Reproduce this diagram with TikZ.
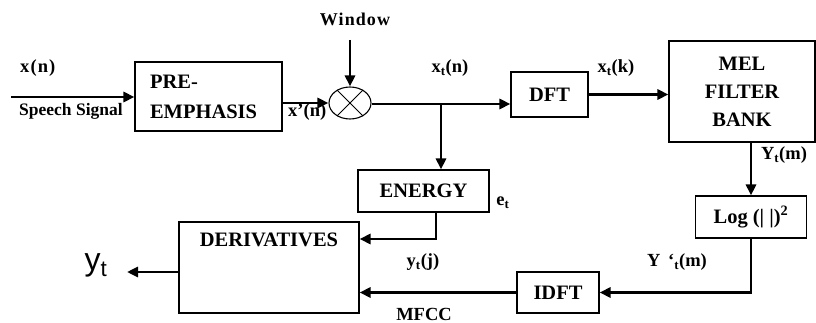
\documentclass[tikz,border=0pt]{standalone}
\usepackage{fontspec}
\setmainfont{Liberation Serif}
\newfontfamily\sansf{Liberation Sans}
\usetikzlibrary{shapes.geometric,arrows.meta}
\begin{document}
\begin{tikzpicture}[x=1pt,y=-1pt,
  blk/.style={draw,line width=1.1pt,inner sep=0pt,font=\bfseries\fontsize{20.5}{28}\selectfont,align=center},
  lbl/.style={font=\bfseries\fontsize{18.5}{20}\selectfont,inner sep=0pt},
  conn/.style={line width=2.8pt,-{Triangle[length=11pt,width=10pt]}}]
\useasboundingbox (0,0) rectangle (816,323);
% blocks
\node[blk,text width=117pt,inner xsep=15pt,minimum height=69pt,align=left,font=\bfseries\fontsize{20.5}{30}\selectfont] (pre) at (208.5,96.5) {PRE-\\EMPHASIS};
\node[draw,line width=1.1pt,ellipse,minimum width=42pt,minimum height=32pt,inner sep=0pt] (mul) at (350,103) {};
\draw[line width=0.8pt] (mul.45) -- (mul.225) (mul.135) -- (mul.315);
\node[blk,minimum width=77pt,minimum height=45pt] (dft) at (549.5,94.5) {DFT};
\node[blk,minimum width=146pt,minimum height=101pt] (mel) at (742,91.5) {MEL\\FILTER\\BANK};
\node[blk,minimum width=111pt,minimum height=42pt] (log) at (751,217) {Log (| |)\textsuperscript{2}};
\node[blk,minimum width=82pt,minimum height=41pt] (idft) at (558,292.5) {IDFT};
\node[blk,minimum width=131pt,minimum height=42pt] (energy) at (423.5,191) {ENERGY};
\node[blk,minimum width=180pt,minimum height=91pt,
  label={[font=\bfseries\fontsize{20.5}{28}\selectfont,anchor=north,yshift=-8pt]north:DERIVATIVES}] (der) at (269,267.5) {};
% free ends
\coordinate (in) at (11,97);
\coordinate (win) at (350,40);
\coordinate (br) at (441,104);
\coordinate (ec) at (436,239);
\coordinate (out) at (127,272);
% connectors
\draw[conn] (in) -- (in -| pre.west);
\draw[conn] (pre.east |- mul) -- (mul.west);
\draw[conn] (win) -- (mul.north);
\draw[conn] (mul.east |- br) -- (br -| dft.west);
\draw[conn] (br) -- (br |- energy.north);
\draw[conn] (dft.east) -- (dft.east -| mel.west);
\draw[conn] (log.north |- mel.south) -- (log.north);
\draw[conn] (log.south) -- (log.south |- idft.east) -- (idft.east);
\draw[conn] (idft.west) -- (idft.west -| der.east);
\draw[conn] (ec |- energy.south) -- (ec) -- (ec -| der.east);
\draw[conn] (der.west |- out) -- (out);
% labels
\node[lbl,anchor=west,font=\bfseries\fontsize{18.5}{20}\addfontfeature{LetterSpace=6}] (lxn) at (20,68) {x(n)};
\node[lbl,anchor=west,font=\bfseries\fontsize{17.5}{18}\selectfont] (lsp) at (19,111) {Speech Signal};
\node[lbl,anchor=west] (lxp) at (288,112) {x'(n)};
\node[lbl,font=\bfseries\fontsize{18}{20}\addfontfeature{LetterSpace=6}] (lwin) at (355,19) {Window};
\node[lbl] (lxtn) at (450,68) {x\textsubscript{t}(n)};
\node[lbl] (lxtk) at (616,68) {x\textsubscript{t}(k)};
\node[lbl] (lytm) at (784,155) {Y\textsubscript{t}(m)};
\node[lbl] (let) at (503,203) {e\textsubscript{t}};
\node[lbl] (lytj) at (423,262) {y\textsubscript{t}(j)};
\node[lbl] (lyp) at (677,262) {Y\, ‘\textsubscript{t}(m)};
\node[lbl] (lmfcc) at (424,314) {MFCC};
\node[inner sep=0pt,font=\sansf\fontsize{32}{34}\selectfont] (lyt) at (96,265) {y\textsubscript{t}};
\end{tikzpicture}
\end{document}
